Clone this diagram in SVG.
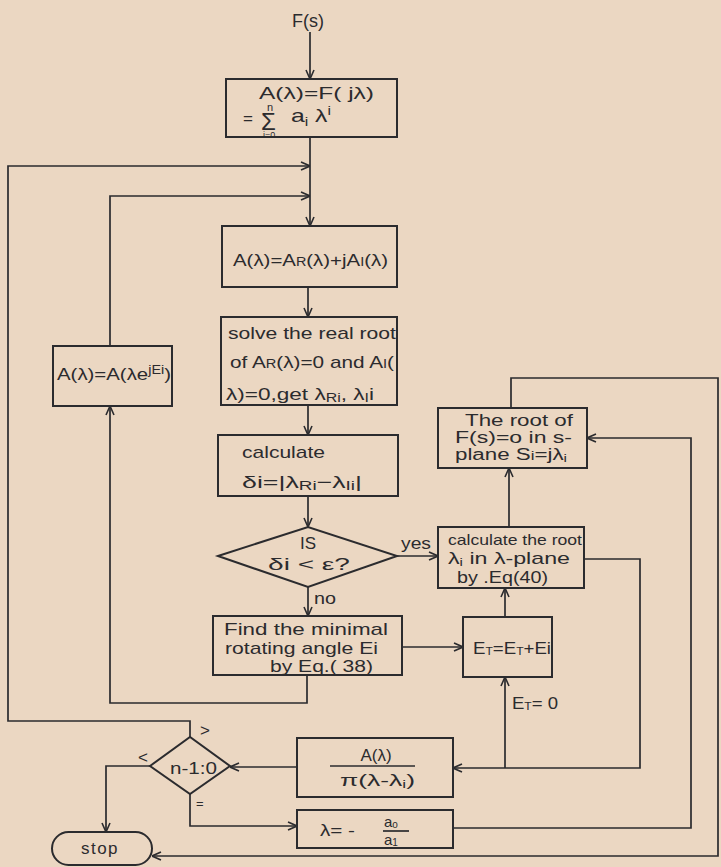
<svg xmlns="http://www.w3.org/2000/svg" width="721" height="867" viewBox="0 0 721 867">
<defs>
<marker id="arr" viewBox="0 0 10 10" refX="10" refY="5" markerWidth="10" markerHeight="10" markerUnits="userSpaceOnUse" orient="auto">
<path d="M1,1 L10,5 L1,9" fill="none" stroke="#2b2b2e" stroke-width="1.6"/>
</marker>
<style>
.box{fill:none;stroke:#2b2b2e;stroke-width:2}
.ln{fill:none;stroke:#2b2b2e;stroke-width:1.7}
.ar{marker-end:url(#arr)}
text{font-family:"Liberation Sans","DejaVu Sans",sans-serif;font-size:17px;fill:#2b2b2e}
.sm{font-size:11px}
</style>
</defs>
<rect width="721" height="867" fill="#ebd7c2"/>

<g id="connectors">
<path class="ln ar" d="M310,32 V79"/>
<path class="ln ar" d="M310,137 V226"/>
<path class="ln ar" d="M190,737 V721 H8 V166 H310"/>
<path class="ln ar" d="M307,675 V703 H110 V406"/>
<path class="ln ar" d="M110,346 V196 H310"/>
<path class="ln ar" d="M308,287 V317"/>
<path class="ln ar" d="M308,405 V435"/>
<path class="ln ar" d="M308,496 V527"/>
<path class="ln ar" d="M308,587 V616"/>
<path class="ln ar" d="M397,556 H438"/>
<path class="ln ar" d="M402,647 H463"/>
<path class="ln ar" d="M505,617 V588"/>
<path class="ln ar" d="M509,527 V468"/>
<path class="ln ar" d="M584,559 H640 V768 H453"/>
<path class="ln ar" d="M505,768 V677"/>
<path class="ln ar" d="M297,767 H230"/>
<path class="ln ar" d="M150,766 H106 V832"/>
<path class="ln ar" d="M190,794 V826 H297"/>
<path class="ln ar" d="M453,828 H691 V438 H587"/>
<path class="ln ar" d="M511,408 V378 H718 V856 H152"/>
<text x="401" y="549" textLength="30" lengthAdjust="spacingAndGlyphs">yes</text>
<text x="314" y="604" textLength="22" lengthAdjust="spacingAndGlyphs">no</text>
<text x="512" y="709" textLength="46" lengthAdjust="spacingAndGlyphs">E<tspan class="sm" dy="1">T</tspan><tspan dy="-1">= 0</tspan></text>
<text x="200" y="736">&gt;</text>
<text x="138" y="763">&lt;</text>
<text x="196" y="808" style="font-size:13px">=</text>
</g>

<g id="start">
<text x="308" y="27" text-anchor="middle" style="font-size:18px">F(s)</text>
</g>

<g id="poly">
<rect class="box" x="226" y="79" width="171" height="58"/>
<text x="259" y="99" textLength="115" lengthAdjust="spacingAndGlyphs">A(λ)=F( jλ)</text>
<text x="243" y="124">=</text>
<text x="261" y="130" style="font-size:24px">Σ</text>
<text x="267" y="111" style="font-size:11px">n</text>
<text x="263" y="138" style="font-size:9px">i=0</text>
<text x="291" y="122" textLength="40" lengthAdjust="spacingAndGlyphs" style="font-size:19px">a<tspan font-size="12" dy="4">i</tspan><tspan dy="-4"> λ</tspan><tspan font-size="12" dy="-7">i</tspan></text>
</g>

<g id="split">
<rect class="box" x="222" y="226" width="175" height="61"/>
<text x="233" y="266" textLength="155" lengthAdjust="spacingAndGlyphs">A(λ)=A<tspan font-size="12">R</tspan>(λ)+jA<tspan font-size="12">I</tspan>(λ)</text>
</g>

<g id="solve">
<rect class="box" x="221" y="317" width="176" height="88"/>
<text x="228" y="339" textLength="168" lengthAdjust="spacingAndGlyphs">solve the real root</text>
<text x="230" y="368" textLength="164" lengthAdjust="spacingAndGlyphs">of A<tspan font-size="12">R</tspan>(λ)=0 and A<tspan font-size="12">I</tspan>(</text>
<text x="226" y="400" textLength="148" lengthAdjust="spacingAndGlyphs">λ)=0,get λ<tspan font-size="12" dy="2">Ri</tspan><tspan dy="-2">, λ</tspan><tspan font-size="12" dy="2">I</tspan><tspan dy="-2">i</tspan></text>
</g>

<g id="rotate">
<rect class="box" x="53" y="346" width="119" height="60"/>
<text x="57" y="380" textLength="114" lengthAdjust="spacingAndGlyphs">A(λ)=A(λe<tspan font-size="12" dy="-6">jEi</tspan><tspan dy="6">)</tspan></text>
</g>

<g id="delta">
<rect class="box" x="218" y="435" width="180" height="61"/>
<text x="242" y="458" textLength="83" lengthAdjust="spacingAndGlyphs">calculate</text>
<text x="242" y="488" textLength="120" lengthAdjust="spacingAndGlyphs">δi=|λ<tspan font-size="12" dy="2">Ri</tspan><tspan dy="-2">−λ</tspan><tspan font-size="12" dy="2">Ii</tspan><tspan dy="-2">|</tspan></text>
</g>

<g id="test">
<polygon class="box" points="218,556 308,527 397,556 308,587"/>
<text x="308" y="549" text-anchor="middle">IS</text>
<text x="268" y="570" textLength="82" lengthAdjust="spacingAndGlyphs">δi &lt; ε?</text>
</g>

<g id="find">
<rect class="box" x="213" y="616" width="189" height="59"/>
<text x="224" y="635" textLength="164" lengthAdjust="spacingAndGlyphs">Find the minimal</text>
<text x="225" y="654" textLength="153" lengthAdjust="spacingAndGlyphs">rotating angle Ei</text>
<text x="270" y="672" textLength="103" lengthAdjust="spacingAndGlyphs">by Eq.( 38)</text>
</g>

<g id="accum">
<rect class="box" x="463" y="617" width="89" height="60"/>
<text x="473" y="654" textLength="78" lengthAdjust="spacingAndGlyphs">E<tspan class="sm" dy="1">T</tspan><tspan dy="-1">=E</tspan><tspan class="sm" dy="1">T</tspan><tspan dy="-1">+Ei</tspan></text>
</g>

<g id="calcroot">
<rect class="box" x="438" y="527" width="146" height="61"/>
<text x="448" y="545" textLength="134" lengthAdjust="spacingAndGlyphs" style="font-size:15px">calculate the root</text>
<text x="448" y="564" textLength="122" lengthAdjust="spacingAndGlyphs">λ<tspan class="sm" dy="2">i</tspan><tspan dy="-2"> in λ-plane</tspan></text>
<text x="457" y="583" textLength="91" lengthAdjust="spacingAndGlyphs">by .Eq(40)</text>
</g>

<g id="root">
<rect class="box" x="438" y="408" width="149" height="60"/>
<text x="465" y="426" textLength="108" lengthAdjust="spacingAndGlyphs" style="font-size:16px">The root of</text>
<text x="455" y="443" textLength="117" lengthAdjust="spacingAndGlyphs" style="font-size:16px">F(s)=o in s-</text>
<text x="455" y="460" textLength="112" lengthAdjust="spacingAndGlyphs" style="font-size:16px">plane S<tspan font-size="12">i</tspan>=jλ<tspan class="sm" dy="2">i</tspan></text>
</g>

<g id="deflate">
<rect class="box" x="297" y="738" width="156" height="59"/>
<text x="376" y="761" text-anchor="middle">A(λ)</text>
<line class="ln" x1="330" y1="766" x2="415" y2="766"/>
<text x="340" y="786" textLength="75" lengthAdjust="spacingAndGlyphs">π(λ-λ<tspan class="sm" dy="2">i</tspan><tspan dy="-2">)</tspan></text>
</g>

<g id="order">
<polygon class="box" points="150,766 190,737 230,766 190,794"/>
<text x="170" y="774" textLength="47" lengthAdjust="spacingAndGlyphs">n-1:0</text>
</g>

<g id="linear">
<rect class="box" x="297" y="810" width="156" height="38"/>
<text x="320" y="836" textLength="35" lengthAdjust="spacingAndGlyphs">λ= -</text>
<text x="384" y="827" style="font-size:15px">a<tspan font-size="10" dy="1">o</tspan></text>
<line class="ln" x1="383" y1="831" x2="409" y2="831" stroke-width="1.2"/>
<text x="384" y="845" style="font-size:15px">a<tspan font-size="10" dy="1">1</tspan></text>
</g>

<g id="stop">
<rect class="box" x="52" y="832" width="100" height="33" rx="16.5"/>
<text x="100" y="854" text-anchor="middle" letter-spacing="1.5">stop</text>
</g>
</svg>
